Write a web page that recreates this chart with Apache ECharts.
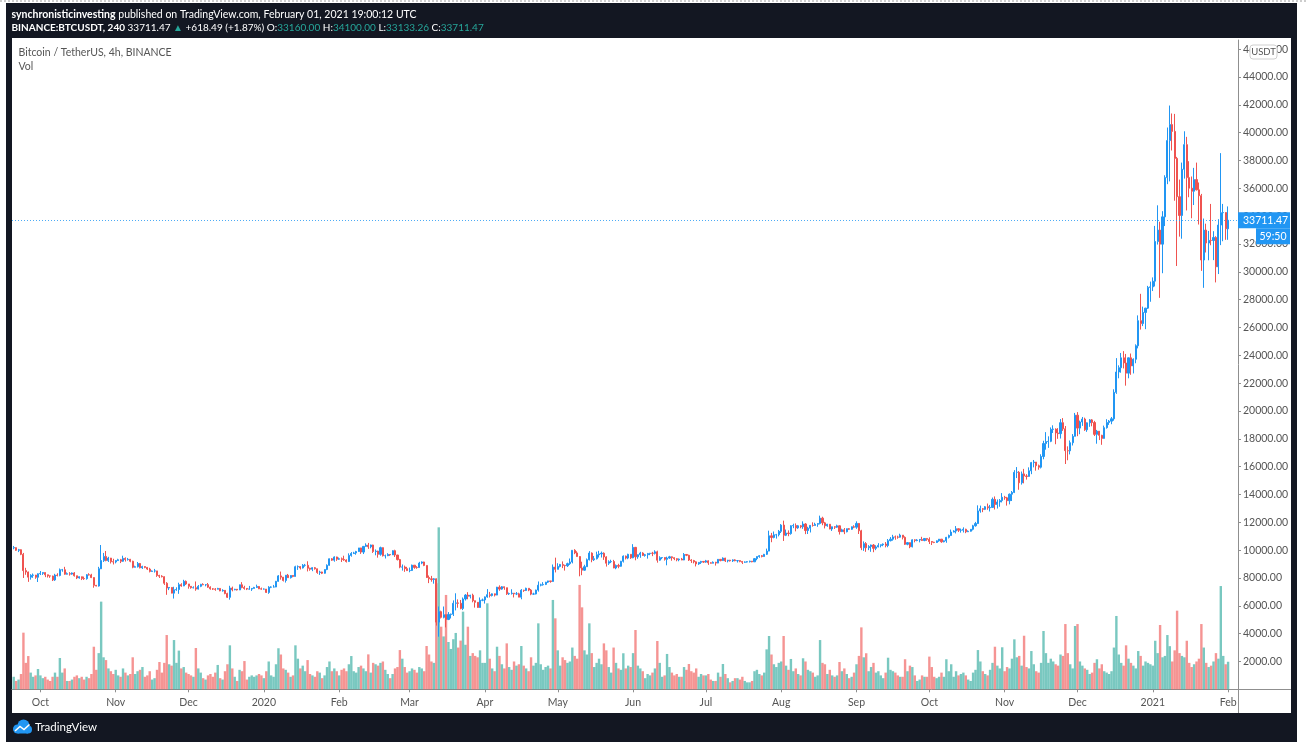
<!DOCTYPE html>
<html><head><meta charset="utf-8">
<script src="https://cdn.jsdelivr.net/npm/echarts/dist/echarts.min.js"></script>
<style>html,body{margin:0;padding:0;background:#fff;}#c{width:1307px;height:752px;}</style>
</head><body><div id="c"></div>
<script>
// ---------- DATA (daily candles: [open, high, low, close]) ----------
const p2019_09 = [[10160,10300,10060,10180],[10180,10200,9950,9990],[9990,10090,9860,10030],[10030,10060,9640,9700],[9700,9800,8000,8530],[8530,8730,8230,8430],[8430,8460,7720,8060],[8060,8270,7880,8190],[8190,8320,8010,8210],[8210,8220,7940,8050],[8050,8330,7710,8300]];
const p2019_10 = [[8300,8500,8210,8330],[8330,8400,8220,8390],[8390,8400,8060,8230],[8230,8240,8030,8150],[8150,8180,8010,8140],[8140,8170,7780,7860],[7860,8300,7790,8210],[8210,8340,8110,8180],[8180,8680,8120,8590],[8590,8650,8450,8590],[8590,8800,8230,8270],[8270,8400,8250,8310],[8310,8420,8170,8280],[8280,8400,8230,8360],[8360,8420,8100,8160],[8160,8160,7920,8000],[8000,8120,7950,8090],[8090,8100,7850,7960],[7960,8100,7860,7950],[7950,8280,7880,8230],[8230,8340,8180,8220],[8220,8300,7990,8030],[8030,8050,7300,7470],[7470,7500,7400,7420],[7420,8800,7380,8660],[8660,10370,8640,9250],[9250,9800,9150,9550],[9550,9940,9200,9250],[9250,9520,9150,9430],[9430,9440,9040,9170],[9170,9380,8970,9150]];
const p2019_11 = [[9150,9280,9050,9250],[9250,9380,9220,9310],[9310,9370,9070,9200],[9200,9600,9160,9410],[9410,9480,9180,9320],[9320,9440,9250,9340],[9340,9370,9130,9200],[9200,9240,8700,8770],[8770,8880,8760,8810],[8810,9150,8750,9040],[9040,9080,8690,8730],[8730,8880,8650,8820],[8820,8850,8700,8760],[8760,8790,8570,8640],[8640,8730,8400,8470],[8470,8540,8450,8500],[8500,8650,8390,8510],[8510,8510,8080,8180],[8180,8230,8000,8130],[8130,8200,8040,8090],[8090,8120,7500,7620],[7620,7700,6790,7280],[7280,7340,7130,7320],[7320,7330,6900,6910],[6910,7370,6520,7150],[7150,7330,7080,7170],[7170,7660,6860,7520],[7520,7620,7370,7430],[7430,7870,7410,7760],[7760,7820,7500,7570]];
const p2019_12 = [[7570,7570,7230,7400],[7400,7420,7230,7300],[7300,7400,7250,7300],[7300,7750,7080,7200],[7200,7490,7170,7400],[7400,7580,7340,7540],[7540,7620,7480,7510],[7510,7560,7400,7520],[7520,7640,7290,7340],[7340,7400,7160,7220],[7220,7270,7140,7200],[7200,7270,7080,7190],[7190,7290,7180,7250],[7250,7260,7050,7070],[7070,7190,7020,7110],[7110,7130,6830,6880],[6880,6940,6560,6610],[6610,7440,6440,7280],[7280,7380,7040,7150],[7150,7220,7120,7190],[7190,7200,7100,7140],[7140,7520,7130,7510],[7510,7700,7260,7320],[7320,7440,7160,7250],[7250,7270,7130,7200],[7200,7430,7160,7200],[7200,7270,7070,7250],[7250,7360,7250,7320],[7320,7520,7280,7390],[7390,7420,7200,7220],[7220,7310,7150,7200]];
const p2020_01 = [[7200,7250,7170,7200],[7200,7210,6920,6960],[6960,7410,6860,7340],[7340,7400,7270,7350],[7350,7500,7320,7350],[7350,7790,7340,7760],[7760,8210,7730,8150],[8150,8460,7880,8060],[8060,8070,7750,7820],[7820,8200,7670,8200],[8200,8290,8000,8020],[8020,8200,7960,8180],[8180,8200,8050,8110],[8110,8880,8100,8810],[8810,8900,8580,8820],[8820,8840,8610,8720],[8720,9000,8680,8910],[8910,9010,8810,8910],[8910,9200,8470,8700],[8700,8740,8520,8630],[8630,8770,8490,8740],[8740,8790,8600,8660],[8660,8670,8300,8390],[8390,8520,8220,8430],[8430,8450,8280,8340],[8340,8620,8310,8610],[8610,8980,8560,8910],[8910,9400,8880,9380],[9380,9430,9230,9280],[9280,9560,9170,9510],[9510,9530,9230,9350]];
const p2020_02 = [[9350,9470,9300,9380],[9380,9470,9150,9330],[9330,9600,9230,9290],[9290,9340,9110,9180],[9180,9770,9160,9620],[9620,9860,9530,9760],[9760,9880,9720,9800],[9800,9950,9670,9900],[9900,10160,9880,10160],[10160,10170,9730,9860],[9860,10300,9720,10270],[10270,10490,10250,10360],[10360,10520,10090,10240],[10240,10400,10130,10370],[10370,10390,9800,9900],[9900,10050,9630,9930],[9930,9960,9460,9700],[9700,10250,9600,10180],[10180,10200,9540,9600],[9600,9680,9400,9600],[9600,9780,9570,9690],[9690,9700,9590,9660],[9660,9990,9650,9960],[9960,10030,9510,9650],[9650,9660,9260,9320],[9320,9370,8700,8780],[8780,8970,8530,8790],[8790,8890,8440,8670],[8670,8800,8520,8530]];
const p2020_03 = [[8530,8750,8410,8540],[8540,8960,8500,8920],[8920,8930,8660,8760],[8760,8850,8660,8750],[8750,9160,8750,9070],[9070,9190,8990,9150],[9150,9170,8850,8900],[8900,8900,8000,8030],[8030,8180,7630,7940],[7940,8150,7730,7890],[7890,7990,7590,7940],[7940,7970,4580,4830],[4830,5950,3780,5580],[5580,5650,5090,5170],[5170,5950,5100,5360],[5360,5370,4450,5020],[5020,5550,4970,5380],[5380,5440,5090,5400],[5400,6390,5270,6180],[6180,6900,5670,6210],[6210,6460,5860,6180],[6180,6420,5750,5810],[5810,6600,5690,6490],[6490,6840,6380,6770],[6770,6980,6470,6690],[6690,6790,6530,6760],[6760,6870,6250,6370],[6370,6370,5870,6250],[6250,6270,5860,5880],[5880,6600,5860,6400],[6400,6520,6330,6420]];
const p2020_04 = [[6420,6670,6160,6640],[6640,7200,6580,6800],[6800,7000,6600,6740],[6740,6890,6670,6860],[6860,6880,6670,6770],[6770,7360,6760,7340],[7340,7470,7080,7200],[7200,7420,7150,7370],[7370,7380,7150,7300],[7300,7300,6780,6860],[6860,6950,6780,6880],[6880,7190,6810,6910],[6910,6920,6600,6860],[6860,6990,6770,6860],[6860,6940,6620,6620],[6620,7200,6470,7120],[7120,7150,7000,7100],[7100,7300,7060,7260],[7260,7260,7050,7130],[7130,7210,6760,6840],[6840,6940,6790,6850],[6850,7160,6820,7130],[7130,7750,7020,7480],[7480,7590,7400,7510],[7510,7700,7450,7540],[7540,7720,7490,7700],[7700,7800,7640,7790],[7790,7790,7660,7750],[7750,8970,7730,8780],[8780,9460,8400,8620]];
const p2020_05 = [[8620,9060,8620,8830],[8830,9010,8760,8970],[8970,9190,8710,8900],[8900,8950,8530,8880],[8880,9100,8790,9030],[9030,9400,8940,9150],[9150,9990,9050,9990],[9990,10070,9710,9800],[9800,9920,9520,9540],[9540,9570,8120,8720],[8720,9170,8200,8560],[8560,8950,8530,8810],[8810,9400,8800,9310],[9310,9930,9260,9790],[9790,9840,9130,9310],[9310,9580,9220,9380],[9380,9890,9330,9670],[9670,9950,9470,9730],[9730,9900,9470,9780],[9780,9840,9300,9510],[9510,9560,8820,9060],[9060,9270,8940,9170],[9170,9310,9070,9180],[9180,9300,8700,8720],[8720,8970,8630,8900],[8900,9020,8700,8840],[8840,9230,8810,9200],[9200,9620,9110,9570],[9570,9610,9330,9430],[9430,9740,9350,9700],[9700,9700,9370,9450]];
const p2020_06 = [[9450,10430,9420,10200],[10200,10230,9270,9520],[9520,9690,9380,9670],[9670,9880,9450,9790],[9790,9850,9580,9620],[9620,9730,9530,9670],[9670,9800,9390,9750],[9750,9800,9640,9780],[9780,9880,9570,9770],[9770,9990,9690,9880],[9880,9960,9100,9280],[9280,9560,9240,9460],[9460,9490,9350,9470],[9470,9490,9250,9340],[9340,9530,8910,9430],[9430,9590,9380,9520],[9520,9550,9240,9460],[9460,9480,9280,9390],[9390,9420,9200,9310],[9310,9400,9200,9360],[9360,9440,9280,9290],[9290,9790,9280,9690],[9690,9700,9570,9630],[9630,9670,9220,9290],[9290,9350,9080,9250],[9250,9300,9050,9160],[9160,9200,8830,9010],[9010,9130,8940,9120],[9120,9230,9010,9190],[9190,9200,9080,9140]];
const p2020_07 = [[9140,9300,9090,9230],[9230,9270,8940,9090],[9090,9130,9040,9060],[9060,9190,9050,9130],[9130,9160,8890,9070],[9070,9360,9060,9340],[9340,9360,9200,9250],[9250,9480,9230,9430],[9430,9450,9150,9230],[9230,9300,9120,9280],[9280,9300,9180,9230],[9230,9340,9150,9300],[9300,9350,9200,9240],[9240,9280,9110,9250],[9250,9270,9130,9190],[9190,9210,9000,9130],[9130,9190,9090,9150],[9150,9200,9110,9170],[9170,9240,9110,9210],[9210,9220,9130,9160],[9160,9430,9150,9390],[9390,9550,9270,9540],[9540,9640,9450,9600],[9600,9650,9480,9540],[9540,9730,9530,9700],[9700,10110,9650,9930],[9930,11400,9920,11030],[11030,11240,10570,10910],[10910,11340,10850,11100],[11100,11170,10830,11110],[11110,11450,10990,11350]];
const p2020_08 = [[11350,11870,11230,11800],[11800,12120,10660,11070],[11070,11480,11010,11230],[11230,11420,11000,11190],[11190,11790,11110,11750],[11750,11900,11580,11770],[11770,11920,11350,11600],[11600,11810,11530,11750],[11750,11800,11570,11680],[11680,12070,11530,11880],[11880,11940,11150,11410],[11410,11680,11160,11580],[11580,11800,11270,11780],[11780,12000,11690,11770],[11770,11970,11760,11860],[11860,11930,11680,11910],[11910,12480,11850,12300],[12300,12400,11790,11960],[11960,12030,11560,11750],[11750,11890,11680,11860],[11860,11880,11500,11520],[11520,11690,11380,11680],[11680,11720,11520,11650],[11650,11830,11600,11750],[11750,11770,11120,11330],[11330,11540,11300,11460],[11460,11590,11150,11320],[11320,11550,11280,11540],[11540,11590,11460,11500],[11500,11700,11460,11680],[11680,11790,11580,11650]];
const p2020_09 = [[11650,12070,11530,11920],[11920,11950,11160,11390],[11390,11460,10000,10170],[10170,10630,9950,10470],[10470,10580,9880,10170],[10170,10360,10000,10260],[10260,10400,9880,10370],[10370,10440,9850,10130],[10130,10350,10000,10230],[10230,10500,10200,10340],[10340,10400,10200,10390],[10390,10480,10280,10440],[10440,10580,10200,10330],[10330,10800,10210,10680],[10680,10940,10630,10790],[10790,11100,10680,10950],[10950,11050,10750,10940],[10940,11040,10820,10930],[10930,11180,10900,11080],[11080,11080,10770,10920],[10920,10990,10370,10420],[10420,10580,10350,10540],[10540,10560,10140,10240],[10240,10780,10200,10740],[10740,10780,10560,10690],[10690,10790,10640,10730],[10730,10800,10560,10770],[10770,10960,10660,10690],[10690,10860,10640,10840],[10840,10850,10670,10780]];
const p2020_10 = [[10780,10920,10440,10620],[10620,10650,10370,10570],[10570,10600,10500,10550],[10550,10700,10520,10670],[10670,10800,10600,10790],[10790,10800,10530,10600],[10600,10700,10560,10670],[10670,10950,10530,10920],[10920,11120,10840,11050],[11050,11480,11040,11300],[11300,11430,11280,11370],[11370,11730,11200,11540],[11540,11560,11300,11430],[11430,11550,11260,11430],[11430,11640,11270,11500],[11500,11540,11220,11320],[11320,11420,11300,11360],[11360,11490,11330,11500],[11500,11820,11420,11750],[11750,12030,11690,11910],[11910,13220,11890,12820],[12820,13200,12690,12980],[12980,13030,12730,12930],[12930,13170,12880,13120],[13120,13350,12900,13040],[13040,13250,12780,13070],[13070,13780,13050,13650],[13650,13860,12920,13280],[13280,13640,12990,13460],[13460,13670,13120,13560],[13560,14100,13430,13800]];
const p2020_11 = [[13800,13900,13620,13760],[13760,13830,13200,13550],[13550,14070,13290,14020],[14020,14250,13530,14150],[14150,15750,14100,15590],[15590,15970,15180,15590],[15590,15680,14340,14840],[14840,15650,14710,15480],[15480,15840,14800,15330],[15330,15460,15070,15300],[15300,15950,15280,15700],[15700,16340,15460,16290],[16290,16480,15950,16330],[16330,16330,15710,16070],[16070,16150,15780,15960],[15960,16890,15870,16730],[16730,17860,16530,17660],[17660,18480,17220,17800],[17800,18180,17350,17820],[17820,18820,17760,18680],[18680,18970,18420,18700],[18700,18750,17610,18420],[18420,18770,18000,18370],[18370,19420,18020,19160],[19160,19490,18570,18720],[18720,18920,16190,17150],[17150,17460,16460,17140],[17140,17880,16880,17720],[17720,18340,17520,18180],[18180,19860,18180,19700]];
const p2020_12 = [[19700,19920,18190,18770],[18770,19310,18330,19210],[19210,19570,18930,19420],[19420,19520,18570,18650],[18650,19180,18500,19150],[19150,19420,18860,19360],[19360,19420,18900,19170],[19170,19290,18200,18320],[18320,18640,17650,18550],[18550,18560,17910,18250],[18250,18290,17570,18030],[18030,18950,18020,18800],[18800,19410,18730,19170],[19170,19350,19000,19270],[19270,19570,19050,19440],[19440,21560,19300,21340],[21340,23800,21230,22800],[22800,23280,22350,23110],[23110,24170,22750,23820],[23820,24300,23060,23450],[23450,24100,21820,22720],[22720,23840,22350,23820],[23820,24130,22600,23240],[23240,23780,22700,23720],[23720,24790,23430,24690],[24690,26870,24500,26490],[26490,28420,25850,26280],[26280,27500,26100,27080],[27080,27410,25880,27390],[27390,28990,27330,28880],[28880,29300,27850,28920]];
const p2021_01 = [[28920,29600,28620,29330],[29330,33300,28950,32180],[32180,34780,31960,33000],[33000,33600,28130,31990],[31990,34360,29900,33950],[33950,36940,33290,36770],[36770,40370,36300,39430],[39430,41950,36500,40580],[40580,41380,38720,40090],[40090,41350,35110,38150],[38150,38260,30420,35400],[35400,36630,32530,34050],[34050,37850,32380,37370],[37370,40100,36700,39140],[39140,39700,34410,36770],[36770,37950,35360,36010],[36010,36850,33850,35790],[35790,37470,34800,36630],[36630,37850,35850,35890],[35890,36420,33400,35470],[35470,35600,30070,30850],[30850,33830,28850,33000],[33000,33460,31390,32070],[32070,32940,30830,32260],[32260,34880,31910,32250],[32250,32920,30840,32470],[32470,32560,29240,30360],[30360,33780,29840,33360],[33360,38530,31920,34250],[34250,34880,32200,34260],[34260,34280,32300,33090]];
const p2021_02 = [[33090,34700,32300,33711.47]];

// Volume bar heights per day (read against the chart's scale)
const v2019_09 = [900,600,700,1100,4070,1900,2390,1200,900,1000,1460];
const v2019_10 = [1000,800,900,700,600,900,1200,900,2250,1200,1500,600,600,700,900,1000,800,900,700,900,800,1100,3060,1400,2600,6300,2300,2100,1500,1300,1100];
const v2019_11 = [1400,1000,900,1500,1200,1000,1100,2300,1100,1300,1400,1600,900,1000,1300,700,800,1400,1960,1200,1900,3900,1800,1700,3540,1900,2780,1500,1600,1200];
const v2019_12 = [1100,1000,900,2970,1500,1200,800,700,1000,1100,900,1200,1750,800,700,1300,1800,3160,1500,900,600,1400,1300,2030,700,900,1000,900,1000,1100,1000];
const v2020_01 = [800,1300,2000,1000,900,1800,2950,2500,1500,1400,1200,900,1000,3160,2200,1500,1700,1300,2100,1100,1000,900,1300,1200,800,1000,1600,2000,1300,1500,1300];
const v2020_02 = [1000,1400,1500,1300,1800,2390,1300,1200,1600,1700,1500,1300,2510,1200,1900,1800,1700,1900,2000,1400,1100,800,1100,1500,1600,2820,2200,1600,1200];
const v2020_03 = [1300,1500,1400,1200,1600,1500,1300,3110,2500,2000,1900,7620,11640,4500,3800,6780,3400,2900,3600,4050,3000,3500,5580,3200,4500,2400,2600,2400,2300,2800,1900];
const v2020_04 = [1900,6180,2200,1500,1300,3060,2400,1800,1500,3300,1600,1400,2000,1700,1800,3110,1700,1500,1300,2300,1700,1900,4740,1800,1400,1600,1700,1500,6420,5100];
const v2020_05 = [2800,1700,2300,2100,1900,2000,3000,2400,2200,7500,5890,2800,2500,4740,2600,1600,1900,2200,1800,3300,2800,1600,1200,3000,1900,1500,1400,2590,1500,1700,1600];
const v2020_06 = [2600,4260,1700,1500,1300,800,1100,1000,1200,1500,3470,1900,900,1000,2540,1600,1200,1000,1100,900,900,1600,1400,1820,1300,1200,1500,900,1100,1000];
const v2020_07 = [1000,1100,700,600,600,1200,900,1820,1100,800,500,600,800,800,700,900,600,500,500,600,1300,1400,1100,1000,1200,2870,3830,2500,1800,1600,1900];
const v2020_08 = [2000,3830,1700,1400,2180,1300,1500,1100,1000,2230,2000,1400,1300,1200,900,1000,3540,1900,1800,1100,1400,1000,900,1000,1960,1300,1500,1100,800,900,1200];
const v2020_09 = [1800,2400,4450,2300,2590,1300,1600,1900,1200,1300,1000,800,1200,2270,1400,1300,1200,1000,900,900,2160,1300,1700,1600,1000,600,700,1000,900,900];
const v2020_10 = [2350,1600,900,800,900,1200,900,2160,1300,1800,900,1300,1000,1100,1200,1000,700,600,1200,1400,2820,2000,1300,1100,1000,1400,1900,3060,1700,1500,3020];
const v2020_11 = [1300,1600,1500,2200,3590,2300,2400,1700,3850,1600,1500,2750,1800,1300,1200,1900,4190,2600,1900,2200,2000,1800,1700,2500,2400,4690,2600,1800,1500,4550];
const v2020_12 = [4690,2000,1700,1500,1400,1100,1200,1900,2160,1500,1800,1300,1200,1100,1300,3000,5270,2500,1900,1700,3160,2200,1900,1700,1500,2750,2400,1700,2000,1900,1800];
const v2021_01 = [1700,3490,2600,4620,2300,2400,3900,3100,2000,2800,5650,2600,2400,2300,3490,1900,1600,1800,2000,2200,4690,3000,1900,1600,1700,2000,2600,2200,7420,2400,1800];
const v2021_02 = [1980];

// first calendar day of each monthly block [year, month, day]
const monthStarts = [[2019,9,20],[2019,10,1],[2019,11,1],[2019,12,1],[2020,1,1],[2020,2,1],[2020,3,1],[2020,4,1],[2020,5,1],[2020,6,1],[2020,7,1],[2020,8,1],[2020,9,1],[2020,10,1],[2020,11,1],[2020,12,1],[2021,1,1],[2021,2,1]];
const priceMonths = [p2019_09,p2019_10,p2019_11,p2019_12,p2020_01,p2020_02,p2020_03,p2020_04,p2020_05,p2020_06,p2020_07,p2020_08,p2020_09,p2020_10,p2020_11,p2020_12,p2021_01,p2021_02];
const volMonths = [v2019_09,v2019_10,v2019_11,v2019_12,v2020_01,v2020_02,v2020_03,v2020_04,v2020_05,v2020_06,v2020_07,v2020_08,v2020_09,v2020_10,v2020_11,v2020_12,v2021_01,v2021_02];

const monthNames = ['Jan','Feb','Mar','Apr','May','Jun','Jul','Aug','Sep','Oct','Nov','Dec'];
const yTickStep = 2000;
const lastPrice = 33711.47;
const countdown = '59:50';
const headerUser = 'synchronisticinvesting';
const headerRest = ' published on TradingView.com, February 01, 2021 19:00:12 UTC';
const symbolLine = { sym: 'BINANCE:BTCUSDT, 240', last: '33711.47', chg: '+618.49 (+1.87%)', o: '33160.00', h: '34100.00', l: '33133.26', c: '33711.47' };
const legendTitle = 'Bitcoin / TetherUS, 4h, BINANCE';

// ---------- BUILD ----------
const UP = '#2196F3', DOWN = '#EF5350';
const UPV = 'rgba(38,166,154,0.62)', DOWNV = 'rgba(239,83,80,0.62)';
const candles = [], volumes = [];
monthStarts.forEach(([y, m, d0], k) => {
  priceMonths[k].forEach((row, i) => {
    const t = new Date(y, m - 1, d0 + i).getTime();
    const [o, h, l, c] = row;
    candles.push([t, o, c, l, h]);
    volumes.push({ value: [t, volMonths[k][i]], itemStyle: { color: c >= o ? UPV : DOWNV } });
  });
});

const FONT = 'Lato';
const chart = echarts.init(document.getElementById('c'), null, { renderer: 'canvas' });
const yMax = 46660;
const option = {
  animation: false,
  backgroundColor: '#ffffff',
  grid: { left: 12, right: 69, top: 40, bottom: 62.7, containLabel: false },
  xAxis: {
    type: 'time',
    min: new Date(2019, 8, 19, 19).getTime(),
    max: new Date(2021, 1, 4, 14).getTime(),
    splitNumber: 16,
    minInterval: 28 * 86400000,
    axisLine: { show: true, lineStyle: { color: '#8f8f8f', width: 1 } },
    axisTick: { show: true, length: 3, lineStyle: { color: '#8f8f8f' } },
    splitLine: { show: false },
    axisLabel: {
      color: '#555', fontSize: 10.5, fontFamily: FONT, margin: 8,
      showMinLabel: false, showMaxLabel: false,
      formatter: function (v) {
        const d = new Date(v);
        if (d.getDate() !== 1 || d.getHours() !== 0) return '';
        return d.getMonth() === 0 ? String(d.getFullYear()) : monthNames[d.getMonth()];
      }
    }
  },
  yAxis: [{
    type: 'value', position: 'right', min: 0, max: yMax, interval: yTickStep,
    splitLine: { show: false },
    axisLine: { show: true, lineStyle: { color: '#8f8f8f', width: 1 } },
    axisTick: { show: true, length: 3, lineStyle: { color: '#8f8f8f' } },
    axisLabel: {
      color: '#555', fontSize: 10.5, fontFamily: FONT, margin: 5,
      showMinLabel: false, showMaxLabel: false,
      formatter: v => (v > 0 && v % yTickStep === 0) ? v.toFixed(2) : ''
    }
  }, { type: 'value', min: 0, max: yMax, show: false }],
  series: [{
    type: 'bar', name: 'Vol', yAxisIndex: 1, data: volumes, barWidth: 2.4, silent: true, z: 1
  }, {
    type: 'candlestick', name: 'BTCUSDT', data: candles, encode: { x: 0, y: [1, 2, 3, 4] },
    barWidth: 1.6, silent: true, z: 3,
    itemStyle: { color: UP, color0: DOWN, borderColor: UP, borderColor0: DOWN, borderWidth: 1 },
    markLine: {
      silent: true, symbol: ['none', 'none'], animation: false,
      label: { show: false },
      lineStyle: { color: UP, type: [1, 2], width: 1, opacity: 0.8 },
      data: [{ yAxis: lastPrice }]
    }
  }]
};
chart.setOption(option);

const py = chart.convertToPixel({ yAxisIndex: 0 }, lastPrice);
const txt = (id, x, y, text, extra) => ({ type: 'text', id, x, y, z: 50, style: Object.assign({ text, fill: '#fff', fontFamily: FONT, fontSize: 10, verticalAlign: 'middle', align: 'left' }, extra || {}) });
chart.setOption({
  graphic: { elements: [
    { type: 'line', id: 'dots', z: -8, shape: { x1: 0, y1: 1, x2: 1307, y2: 1 }, style: { stroke: '#9a9a9a', lineWidth: 1, lineDash: [2, 2] } },
    { type: 'rect', id: 'frame', z: -10, shape: { x: 6, y: 3, width: 1291, height: 739 }, style: { fill: '#131722' } },
    { type: 'rect', id: 'pane', z: -9, shape: { x: 12, y: 38, width: 1279, height: 675 }, style: { fill: '#ffffff' } },
    txt('h1', 11.5, 15, '{b|' + headerUser + '}' + headerRest, { fontSize: 10.5, rich: { b: { fontWeight: 'bold', fill: '#fff', fontFamily: FONT, fontSize: 10.5 } } }),
    txt('h2', 11.5, 27.5,
      '{b|' + symbolLine.sym + '} ' + symbolLine.last + ' {t|\u25B2} ' + symbolLine.chg + ' O:{t|' + symbolLine.o + '} H:{t|' + symbolLine.h + '} L:{t|' + symbolLine.l + '} C:{t|' + symbolLine.c + '}',
      { rich: { b: { fontWeight: 'bold', fill: '#fff', fontFamily: FONT, fontSize: 10 }, t: { fill: '#26a69a', fontFamily: FONT, fontSize: 10 } } }),
    txt('leg1', 18.5, 53, legendTitle, { fill: '#555', fontSize: 10.5 }),
    txt('leg2', 18.5, 67, 'Vol', { fill: '#555', fontSize: 10.5 }),
    { type: 'line', id: 'vext', z: 10, shape: { x1: 1238.5, y1: 689, x2: 1238.5, y2: 713 }, style: { stroke: '#8f8f8f', lineWidth: 1 } },
    { type: 'line', id: 'hext', z: 10, shape: { x1: 1238, y1: 689.5, x2: 1291, y2: 689.5 }, style: { stroke: '#8f8f8f', lineWidth: 1 } },
    { type: 'rect', id: 'usdt', z: 40, shape: { x: 1250, y: 45, width: 27, height: 14, r: 3 }, style: { fill: '#fff', stroke: '#cfcfcf', lineWidth: 1 } },
    txt('usdtT', 1263.5, 52, 'USDT', { fill: '#555', fontSize: 9.5, align: 'center' }),
    { type: 'rect', id: 'tag1', z: 45, shape: { x: 1238, y: py - 8, width: 52, height: 16 }, style: { fill: UP } },
    txt('tag1T', 1243, py, lastPrice.toFixed(2), { fontSize: 10.5 }),
    { type: 'rect', id: 'tag2', z: 45, shape: { x: 1256, y: py + 8, width: 34, height: 16 }, style: { fill: UP } },
    txt('tag2T', 1273, py + 16, countdown, { fontSize: 10.5, align: 'center' }),
    { type: 'circle', id: 'logoA', z: 50, shape: { cx: 17.5, cy: 729, r: 4.5 }, style: { fill: '#2196F3' } },
    { type: 'circle', id: 'logoB', z: 50, shape: { cx: 23.5, cy: 725.5, r: 6 }, style: { fill: '#2196F3' } },
    { type: 'circle', id: 'logoC', z: 50, shape: { cx: 28, cy: 729.5, r: 4 }, style: { fill: '#2196F3' } },
    { type: 'rect', id: 'logoD', z: 50, shape: { x: 17.5, y: 728, width: 10.5, height: 5.5 }, style: { fill: '#2196F3' } },
    { type: 'polyline', id: 'logoZ', z: 51, shape: { points: [[15, 731], [20, 726.5], [24, 729.5], [29.5, 724.5]] }, style: { stroke: '#fff', lineWidth: 1.5, fill: null } },
    txt('logoT', 35, 727.5, 'TradingView', { fontSize: 11.5 })
  ] }
});
</script></body></html>
